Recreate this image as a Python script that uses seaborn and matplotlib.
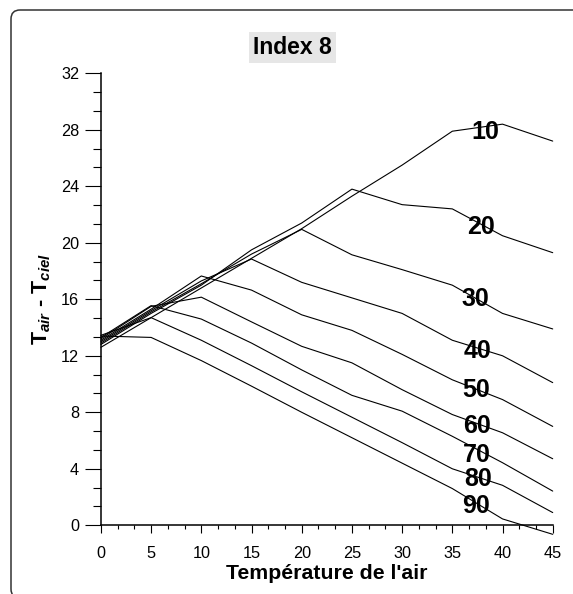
import matplotlib
matplotlib.use("Agg")
import matplotlib.pyplot as plt
from matplotlib.patches import FancyBboxPatch
from matplotlib.ticker import AutoMinorLocator
from matplotlib.transforms import IdentityTransform
import numpy as np
import pandas as pd
import seaborn as sns

# Air temperature (°C)
air_temp = [0, 5, 10, 15, 20, 25, 30, 35, 40, 45]

# Air / sky temperature difference for each humidity curve
curve_10 = [12.6, 14.7, 16.8, 18.9, 21.0, 23.3, 25.5, 27.9, 28.4, 27.2]
curve_20 = [12.8, 15.0, 17.0, 19.5, 21.4, 23.8, 22.7, 22.4, 20.5, 19.3]
curve_30 = [12.9, 15.1, 17.1, 19.2, 20.95, 19.15, 18.1, 17.0, 15.0, 13.9]
curve_40 = [13.0, 15.2, 17.3, 18.85, 17.2, 16.1, 15.0, 13.1, 12.0, 10.1]
curve_50 = [13.1, 15.3, 17.65, 16.65, 14.9, 13.8, 12.1, 10.3, 8.9, 7.0]
curve_60 = [13.2, 15.5, 16.15, 14.4, 12.67, 11.5, 9.6, 7.84, 6.55, 4.71]
curve_70 = [13.3, 15.55, 14.6, 12.9, 11.0, 9.2, 8.08, 6.3, 4.43, 2.42]
curve_80 = [13.45, 14.7, 13.1, 11.3, 9.45, 7.65, 5.85, 4.0, 2.83, 0.9]
curve_90 = [13.4, 13.3, 11.66, 9.85, 8.0, 6.2, 4.4, 2.6, 0.45, -0.64]

curve_names = ["10", "20", "30", "40", "50", "60", "70", "80", "90"]
curves = [curve_10, curve_20, curve_30, curve_40, curve_50,
          curve_60, curve_70, curve_80, curve_90]

# Where each curve's name is written
label_x = [38.3, 37.9, 37.3, 37.5, 37.4, 37.5, 37.4, 37.6, 37.4]
label_y = [28.0, 21.26, 16.16, 12.48, 9.74, 7.17, 5.15, 3.42, 1.52]

x_ticks = [0, 5, 10, 15, 20, 25, 30, 35, 40, 45]
y_ticks = [0, 4, 8, 12, 16, 20, 24, 28, 32]

sns.set_style("ticks")
plt.rcParams["font.family"] = ["Liberation Sans", "DejaVu Sans"]
plt.rcParams["mathtext.fontset"] = "custom"
plt.rcParams["mathtext.rm"] = "Liberation Sans:bold"
plt.rcParams["mathtext.it"] = "Liberation Sans:bold:italic"
plt.rcParams["mathtext.bf"] = "Liberation Sans:bold"
for key in ["text.color", "axes.labelcolor", "xtick.color", "ytick.color",
            "xtick.labelcolor", "ytick.labelcolor"]:
    plt.rcParams[key] = "black"

df = pd.DataFrame({
    "air": np.tile(air_temp, len(curves)),
    "delta": np.concatenate(curves),
    "curve": np.repeat(curve_names, len(air_temp)),
})

fig = plt.figure(figsize=(5.73, 5.94), dpi=100)
ax = fig.add_axes([0.1761, 0.1157, 0.7885, 0.7609])

sns.lineplot(data=df, x="air", y="delta", hue="curve",
             palette={n: "black" for n in curve_names},
             legend=False, linewidth=0.8, ax=ax, sort=False)
for line in ax.lines:
    line.set_clip_on(False)

for name, lx, ly in zip(curve_names, label_x, label_y):
    ax.annotate(name, (lx, ly), xytext=(0, -1.5), textcoords="offset points",
                ha="center", va="center", fontsize=18, fontweight="bold",
                color="black")

ax.set_xlim(0, 45)
ax.set_ylim(0, 32)
ax.set_xticks(x_ticks)
ax.set_yticks(y_ticks)
ax.xaxis.set_minor_locator(AutoMinorLocator(3))
ax.yaxis.set_minor_locator(AutoMinorLocator(3))

for side in ["top", "right"]:
    ax.spines[side].set_visible(False)
for side in ["left", "bottom"]:
    ax.spines[side].set_linewidth(1.1)
    ax.spines[side].set_color("black")

ax.tick_params(axis="x", which="major", length=5.8, width=0.8, pad=9,
               labelsize=11.7)
ax.tick_params(axis="x", which="minor", length=3.2, width=0.8)
ax.tick_params(axis="y", which="major", length=11.3, width=0.8, pad=4.3,
               labelsize=11.7)
ax.tick_params(axis="y", which="minor", length=5.5, width=0.8)

ax.set_xlabel("Température de l'air", fontsize=15.3, fontweight="bold",
              labelpad=2)
ax.set_ylabel(r"$\mathrm{T}_{air}$ - $\mathrm{T}_{ciel}$", fontsize=15.5,
              fontweight="bold", labelpad=6)

fig.text(0.511, 0.9197, "Index 8", ha="center", va="center",
         fontsize=16.5, fontweight="bold",
         bbox=dict(boxstyle="square,pad=0.18", facecolor="#e6e6e6",
                   edgecolor="none"))

frame = FancyBboxPatch((11, -4), 600, 588,
                       boxstyle="round,pad=0,rounding_size=9",
                       transform=IdentityTransform(), facecolor="none",
                       edgecolor="#333333", linewidth=1.1)
fig.patches.append(frame)

fig.savefig("out.png", dpi=100)
